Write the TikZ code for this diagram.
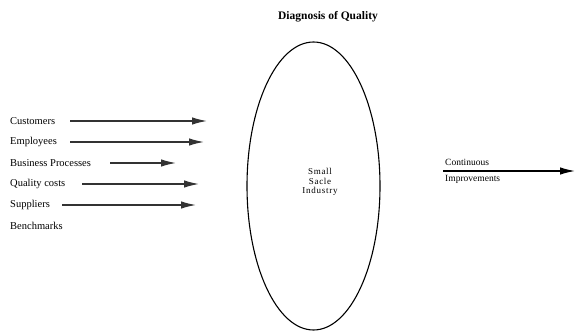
\documentclass[tikz,border=0pt]{standalone}
\usepackage{fontspec}
\setmainfont{Liberation Serif}
\usetikzlibrary{arrows.meta, shapes.geometric}
\tikzset{>={Latex[length=15pt,width=7.5pt]}}
\tikzset{
  inlabel/.style = {anchor=west, inner sep=0pt, font=\fontsize{10.5}{12}\selectfont},
  inarrow/.style = {->, line width=1.4pt, draw=black!80},
}

\begin{document}
\begin{tikzpicture}[x=1pt, y=-1pt]
\useasboundingbox (0,0) rectangle (575,331);
\node[font=\bfseries\fontsize{11.5}{13}\selectfont] (title) at (328,17) {Diagnosis of Quality};
\node[draw, ellipse, line width=1.1pt, minimum width=133, minimum height=288, inner sep=0pt] (sme) at (313.5,186) {};
\node[align=center, inner sep=0pt, font=\fontsize{9}{9.5}\selectfont\addfontfeatures{LetterSpace=8}] (smetext) at (320,182) {Small\\Sacle\\Industry};
% inputs
\node[inlabel] (cust) at (10,121) {Customers};
\node[inlabel] (empl) at (10,142) {Employees};
\node[inlabel] (bp) at (10,163) {Business Processes};
\node[inlabel] (qc) at (10,184) {Quality costs};
\node[inlabel] (supp) at (10,205) {Suppliers};
\node[inlabel] (bench) at (10,226) {Benchmarks};
\coordinate (cust1) at (70,121); \coordinate (cust2) at (207,121);
\coordinate (empl1) at (70,142); \coordinate (empl2) at (204,142);
\coordinate (bp1) at (110,163); \coordinate (bp2) at (176,163);
\coordinate (qc1) at (82,184); \coordinate (qc2) at (199,184);
\coordinate (supp1) at (62,205); \coordinate (supp2) at (196,205);
\draw[inarrow] (cust1) -- (cust2);
\draw[inarrow] (empl1) -- (empl2);
\draw[inarrow] (bp1) -- (bp2);
\draw[inarrow] (qc1) -- (qc2);
\draw[inarrow] (supp1) -- (supp2);
% output
\node[inlabel, font=\fontsize{9.5}{11}\selectfont] (cont) at (445,162) {Continuous};
\node[inlabel, font=\fontsize{9.5}{11}\selectfont] (impr) at (445,179) {Improvements};
\coordinate (out1) at (443,171); \coordinate (out2) at (575,171);
\draw[->, line width=1.4pt] (out1) -- (out2);
\end{tikzpicture}
\end{document}
